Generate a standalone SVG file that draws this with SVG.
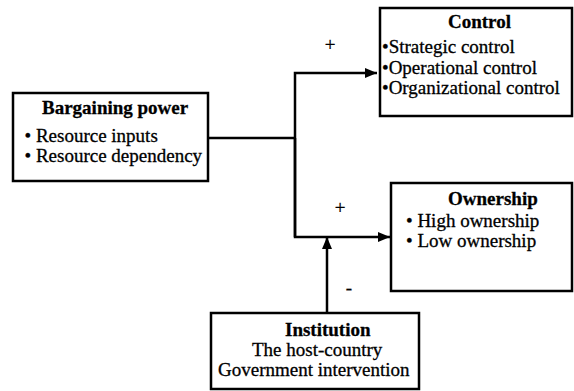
<svg xmlns="http://www.w3.org/2000/svg" width="574" height="391" viewBox="0 0 574 391">
<style>
.box{fill:#fff;stroke:#000;stroke-width:2.5}
.t{font-family:"Liberation Serif","Times New Roman",serif;font-size:19px;fill:#000;stroke:#000;stroke-width:0.3}
.b{font-weight:bold}
.ln{fill:none;stroke:#000;stroke-width:2.5}
</style>
<defs>
<marker id="ah" markerWidth="12" markerHeight="10" refX="12" refY="5" orient="auto" markerUnits="userSpaceOnUse">
<path d="M0,0 L12,5 L0,10 Z" fill="#000"/>
</marker>
</defs>
<rect width="574" height="391" fill="#fff"/>
<g id="connectors">
<polyline class="ln" points="208,138 295,138"/>
<polyline class="ln" points="295,237 295,73 377,73" marker-end="url(#ah)"/>
<polyline class="ln" points="295,138 295,237 390,237" marker-end="url(#ah)"/>
<polyline class="ln" points="327,313 327,237" marker-end="url(#ah)"/>
<text class="t" x="330" y="51" text-anchor="middle">+</text>
<text class="t" x="340" y="214" text-anchor="middle">+</text>
<text class="t" x="349" y="294" text-anchor="middle">-</text>
</g>
<g id="bargaining">
<rect class="box" x="13" y="93" width="195" height="88"/>
<text class="t b" x="42" y="114">Bargaining power</text>
<text class="t" x="24.5" y="142">• Resource inputs</text>
<text class="t" x="24.5" y="162">• Resource dependency</text>
</g>
<g id="control">
<rect class="box" x="380" y="8" width="192" height="108"/>
<text class="t b" x="448" y="28">Control</text>
<text class="t" x="382" y="53">•Strategic control</text>
<text class="t" x="382" y="74">•Operational control</text>
<text class="t" x="382" y="94">•Organizational control</text>
</g>
<g id="ownership">
<rect class="box" x="391" y="183" width="181" height="108"/>
<text class="t b" x="448" y="205">Ownership</text>
<text class="t" x="406" y="227">• High ownership</text>
<text class="t" x="406" y="247">• Low ownership</text>
</g>
<g id="institution">
<rect class="box" x="211" y="313" width="208" height="76"/>
<text class="t b" x="285" y="336">Institution</text>
<text class="t" x="252" y="356">The host-country</text>
<text class="t" x="218" y="376">Government intervention</text>
</g>
</svg>
